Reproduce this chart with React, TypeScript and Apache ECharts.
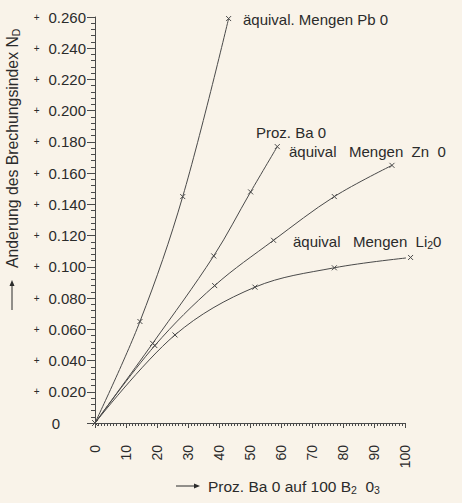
import React, { useEffect, useRef } from "react";
import * as echarts from "echarts";

const xTicks = [0, 10, 20, 30, 40, 50, 60, 70, 80, 90, 100];
const yTickLabels = ["0", "0.020", "0.040", "0.060", "0.080", "0.100", "0.120", "0.140", "0.160", "0.180", "0.200", "0.220", "0.240", "0.260"];

const pbX = [0, 14.5, 28.3, 43.1];
const pbY = [0, 0.065, 0.145, 0.259];
const baX = [0, 18.6, 38.3, 50.2, 58.8];
const baY = [0, 0.051, 0.107, 0.148, 0.177];
const znX = [0, 19.3, 38.6, 57.6, 77.2, 95.8];
const znY = [0, 0.0496, 0.088, 0.117, 0.145, 0.165];
const liX = [0, 25.8, 51.6, 77.2, 101.8];
const liY = [0, 0.0564, 0.087, 0.0994, 0.106];

const FONT = "'Liberation Sans', Arial, sans-serif";
const INK = "#2b2b2b";
const LINE = "#4a4a4a";
const XSYM = "path://M0 0L10 10M10 0L0 10";

function pairs(xs: number[], ys: number[]) {
  return xs.map((x, i) => [x, ys[i]]);
}

function mkSeries(name: string, xs: number[], ys: number[]) {
  return {
    name,
    type: "line",
    data: pairs(xs, ys),
    smooth: 0.35,
    clip: false,
    symbol: XSYM,
    symbolSize: 5,
    showSymbol: true,
    lineStyle: { color: LINE, width: 1 },
    itemStyle: { color: LINE, borderColor: LINE, borderWidth: 1 },
  };
}

export default function App() {
  const ref = useRef<HTMLDivElement>(null);
  useEffect(() => {
    const chart = echarts.init(ref.current!, null, { renderer: "svg" });
    const sub = { fontSize: 10.5, padding: [8, 0, 0, 0], fontFamily: FONT, fill: INK, color: INK };
    const lbl = { fontSize: 15, fontFamily: FONT, fill: INK, verticalAlign: "middle" };
    chart.setOption({
      animation: false,
      backgroundColor: "#f9f3e9",
      grid: { left: 95, right: 57, top: 17, bottom: 80, containLabel: false },
      xAxis: {
        type: "value",
        min: 0,
        max: 100,
        interval: 10,
        axisLine: { lineStyle: { color: LINE, width: 1 } },
        axisTick: { show: true, length: 5, lineStyle: { color: LINE } },
        minorTick: { show: true, splitNumber: 10, length: 3, lineStyle: { color: LINE } },
        splitLine: { show: false },
        axisLabel: {
          rotate: 90,
          margin: 22,
          fontSize: 14,
          fontFamily: FONT,
          color: INK,
          formatter: (v: number) => String(xTicks[Math.round(v / 10)]),
        },
      },
      yAxis: {
        type: "value",
        min: 0,
        max: 0.26,
        interval: 0.02,
        axisLine: { show: true, lineStyle: { color: LINE, width: 1 } },
        axisTick: { show: true, length: 8, lineStyle: { color: LINE } },
        minorTick: { show: true, splitNumber: 5, length: 4, lineStyle: { color: LINE } },
        splitLine: { show: false },
        axisLabel: {
          margin: 9,
          fontSize: 15,
          fontFamily: FONT,
          color: INK,
          formatter: (v: number) => {
            const i = Math.round(v / 0.02);
            return i === 0 ? "{z|0}" : "{p|+}" + yTickLabels[i];
          },
          rich: {
            z: { fontSize: 15, fontFamily: FONT, color: INK, padding: [0, 26, 0, 0] },
            p: { fontSize: 10, fontFamily: FONT, color: INK, padding: [0, 9, 0, 0] },
          },
        },
      },
      series: [
        mkSeries("äquival. Mengen Pb 0", pbX, pbY),
        mkSeries("Proz. Ba 0", baX, baY),
        mkSeries("äquival. Mengen Zn 0", znX, znY),
        mkSeries("äquival. Mengen Li2 0", liX, liY),
      ],
      graphic: [
        { type: "text", x: 243, y: 19, style: { ...lbl, text: "äquival. Mengen Pb 0" } },
        { type: "text", x: 256, y: 132, style: { ...lbl, text: "Proz. Ba 0" } },
        { type: "text", x: 289, y: 151, style: { ...lbl, text: "äquival   Mengen  Zn  0" } },
        { type: "text", x: 293, y: 241, style: { ...lbl, text: "äquival   Mengen  Li{s|2}0", rich: { s: sub } } },
        // x axis title
        { type: "line", shape: { x1: 176, y1: 486, x2: 196, y2: 486 }, style: { stroke: INK, lineWidth: 1 } },
        { type: "polygon", shape: { points: [[200, 486], [194, 483.5], [194, 488.5]] }, style: { fill: INK } },
        { type: "text", x: 208, y: 486, style: { ...lbl, fontSize: 15.5, text: "Proz. Ba 0 auf 100 B{s|2}  0{s|3}", rich: { s: sub } } },
        // y axis title
        { type: "line", shape: { x1: 12, y1: 310, x2: 12, y2: 285 }, style: { stroke: INK, lineWidth: 1 } },
        { type: "polygon", shape: { points: [[12, 280], [9.5, 286], [14.5, 286]] }, style: { fill: INK } },
        {
          type: "text", x: 12, y: 268, rotation: Math.PI / 2,
          style: { ...lbl, fontSize: 15.8, text: "Anderung des Brechungsindex N{s|D}", align: "left", rich: { s: sub } },
        },
      ],
    });
    return () => chart.dispose();
  }, []);
  return <div ref={ref} style={{ position: "fixed", left: 0, top: 0, width: 462, height: 503 }} />;
}
